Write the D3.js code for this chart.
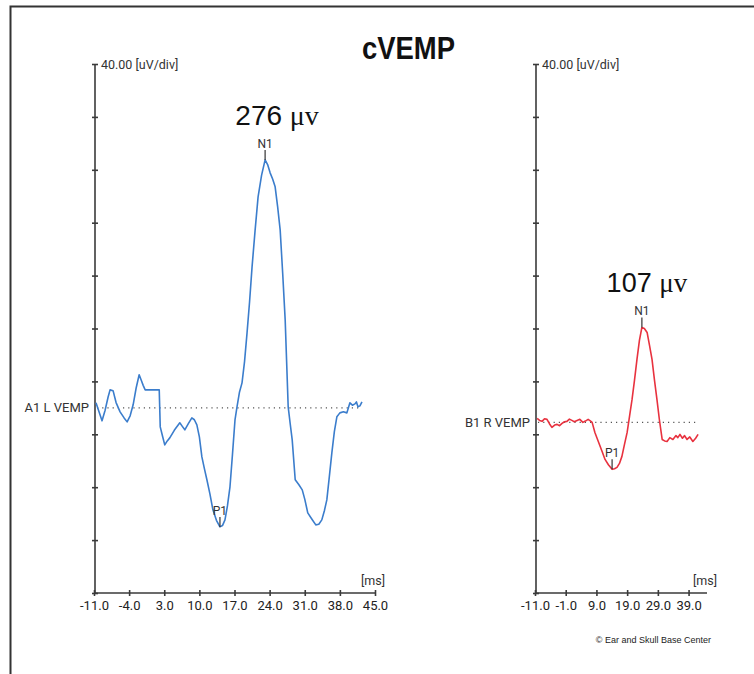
<!DOCTYPE html>
<html>
<head>
<meta charset="utf-8">
<script src="https://cdn.jsdelivr.net/npm/d3@7"></script>
<style>
  body { margin: 0; background: #fff; }
  svg { display: block; }
</style>
</head>
<body>
<div id="chart"></div>
<script>
// left trace (A1 L VEMP): time in ms, amplitude in uV
var leftTime = [-10.6,-10.0,-9.4,-8.8,-8.2,-7.8,-7.2,-6.6,-5.8,-5.0,-4.4,-3.8,-3.2,-2.6,-2.0,-1.6,-1.2,-0.8,0.0,1.0,2.0,2.2,2.7,3.1,3.6,4.1,5.0,6.1,6.6,7.1,7.8,8.5,9.0,9.5,10.0,10.5,11.0,11.5,12.1,12.7,13.4,14.1,14.6,15.1,15.6,16.1,16.6,17.1,17.5,18.0,18.5,19.0,19.5,20.0,20.5,21.1,21.7,22.4,23.1,23.6,24.1,24.6,25.1,25.6,26.1,26.6,27.1,27.7,28.1,28.5,29.1,29.8,30.5,31.0,31.6,32.4,33.2,33.8,34.4,34.9,35.4,35.9,36.4,36.9,37.4,38.0,38.7,39.4,39.7,40.0,40.5,41.0,41.3,41.6,42.0,42.4];
var leftVal = [3.8,-3.0,-9.8,-2.0,8.0,13.6,13.0,4.0,-3.0,-7.6,-10.6,-6.0,2.3,15.0,25.0,21.0,17.0,13.6,13.6,13.6,13.6,-14.4,-22.0,-28.0,-25.0,-22.7,-17.0,-11.3,-14.0,-16.6,-12.0,-7.6,-9.0,-12.9,-22.0,-37.1,-46.0,-54.4,-65.0,-77.1,-85.0,-90.0,-89.0,-84.7,-74.0,-59.7,-35.0,-9.1,0.8,12.0,18.9,35.0,56.7,80.0,106.6,134.0,159.5,176.0,187.5,184.0,177.7,173.0,167.1,152.0,134.6,102.0,66.5,0.8,-12.0,-24.2,-54.4,-58.0,-62.0,-69.0,-79.4,-84.0,-88.5,-88.0,-84.7,-78.0,-69.6,-52.0,-34.0,-18.0,-6.8,-3.8,-3.0,-3.8,0.0,3.8,2.0,3.0,4.5,0.8,1.5,4.5];

// right trace (B1 R VEMP)
var rightTime = [-10.3,-9.5,-8.7,-7.9,-7.1,-6.3,-5.5,-4.6,-3.8,-3.0,-2.2,-1.4,-0.6,0.2,1.0,1.8,2.7,3.6,4.6,5.4,6.3,7.0,7.6,8.5,9.3,10.2,11.0,11.8,12.9,14.1,14.9,15.7,16.5,17.3,18.1,19.0,19.8,20.6,21.4,22.2,23.0,23.8,24.6,25.5,26.3,27.1,27.9,28.7,29.5,30.4,31.2,32.0,32.9,33.9,34.9,35.5,36.2,37.0,37.7,38.5,39.4,40.4,41.3,42.1];
var rightVal = [3.0,1.5,0.8,2.8,2.3,-1.0,-3.8,-2.0,-1.5,-2.5,-0.8,0.5,0.8,2.5,1.5,0.5,1.5,2.3,0.0,1.0,2.3,1.2,0.0,-7.6,-12.5,-18.1,-23.0,-28.0,-32.0,-35.5,-35.0,-34.0,-31.0,-25.7,-17.0,-7.6,5.0,17.4,32.0,47.6,62.0,71.8,71.0,68.0,58.0,47.6,32.0,17.4,2.0,-12.9,-14.0,-14.4,-11.5,-12.9,-10.0,-11.5,-9.1,-12.0,-10.0,-12.9,-11.0,-14.4,-12.0,-9.1];

var xTicksLeft = [-11, -4, 3, 10, 17, 24, 31, 38, 45];
var xTicksRight = [-11, -1, 9, 19, 29, 39];
var panelNames = ["A1 L VEMP", "B1 R VEMP"];
var amplitudes = ["276", "107"];
var peakN1 = [23.1, 23.8];
var peakP1 = [14.1, 14.1];

var W = 754, H = 674;
var axisColor = '#3a3a3a';
var tickFont = 'Roboto, "Liberation Sans", Arial, sans-serif';

var svg = d3.select("#chart").append("svg")
  .attr("width", W)
  .attr("height", H);

// frame
svg.append("path")
  .attr("d", "M10.5," + H + "V6.5H" + W)
  .attr("fill", "none")
  .attr("stroke", "#333")
  .attr("stroke-width", 2);

svg.append("text")
  .attr("x", 362)
  .attr("y", 59)
  .attr("textLength", 93)
  .attr("lengthAdjust", "spacingAndGlyphs")
  .style("font-family", '"Liberation Sans", Arial, sans-serif')
  .style("font-weight", "bold")
  .style("font-size", "31px")
  .attr("fill", "#111")
  .text("cVEMP");

// hyphen minus like the instrument printout
var fmt = function(d) { return d3.format(".1f")(d).replace("\u2212", "-"); };

// 10 divisions of 40 uV; top value picked so the baseline sits where it does in the plot
var panels = [
  {x0: 94, x1: 375, top: 260, time: leftTime, val: leftVal, ticks: xTicksLeft, color: "#3b7dcc", dotEnd: 42.4, ampDx: 12, ampSize: 28},
  {x0: 535, x1: 707, top: 271, time: rightTime, val: rightVal, ticks: xTicksRight, color: "#e8323f", dotEnd: 42.4, ampDx: 5, ampSize: 27}
];

panels.forEach(function(p, k) {
  var x = d3.scaleLinear().domain([-11, 45]).range([p.x0, p.x1]);
  var y = d3.scaleLinear().domain([p.top - 400, p.top]).range([593, 64]);
  var g = svg.append("g");

  // y axis
  var yTicks = d3.range(0, 11).map(function(i) { return p.top - 40 * i; });
  var yAxis = g.append("g")
    .attr("transform", "translate(" + (p.x0 + 1) + ",0)")
    .call(d3.axisLeft(y).tickValues(yTicks).tickSize(3).tickFormat(""));
  yAxis.select(".domain").attr("d", "M0," + y(p.top) + "V" + y(p.top - 400));
  yAxis.selectAll(".tick line").attr("x2", 3).attr("x1", -3);
  yAxis.selectAll("path, line").attr("stroke", axisColor).attr("stroke-width", 1.6);

  // x axis
  var xAxis = g.append("g")
    .attr("transform", "translate(0,593)")
    .call(d3.axisBottom(x).tickValues(p.ticks).tickSize(3).tickPadding(5).tickFormat(fmt));
  xAxis.select(".domain").attr("d", "M" + p.x0 + ",0H" + p.x1);
  xAxis.selectAll(".tick line").attr("y1", -3).attr("y2", 3);
  xAxis.selectAll("path, line").attr("stroke", axisColor).attr("stroke-width", 1.6);
  xAxis.selectAll("text")
    .style("font-family", tickFont)
    .style("font-size", "13px")
    .attr("fill", "#222");

  g.append("text")
    .attr("x", p.x0 + 7)
    .attr("y", 69)
    .style("font-family", tickFont)
    .style("font-size", "12.5px")
    .attr("fill", "#333")
    .text("40.00 [uV/div]");

  g.append("text")
    .attr("x", p.x1 + 10)
    .attr("y", 585)
    .attr("text-anchor", "end")
    .style("font-family", tickFont)
    .style("font-size", "12.5px")
    .attr("fill", "#333")
    .text("[ms]");

  // baseline + label
  g.append("line")
    .attr("x1", p.x0 + 3).attr("x2", x(p.dotEnd))
    .attr("y1", y(0)).attr("y2", y(0))
    .attr("stroke", "#555")
    .attr("stroke-width", 1.2)
    .attr("stroke-dasharray", "1.2,4");

  g.append("text")
    .attr("x", p.x0 - 5)
    .attr("y", y(0) + 4.5)
    .attr("text-anchor", "end")
    .style("font-family", tickFont)
    .style("font-size", "13px")
    .attr("fill", "#333")
    .text(panelNames[k]);

  var pts = p.time.map(function(t, i) { return [t, p.val[i]]; });
  g.append("path")
    .datum(pts)
    .attr("fill", "none")
    .attr("stroke", p.color)
    .attr("stroke-width", 1.6)
    .attr("stroke-linejoin", "round")
    .attr("d", d3.line().x(function(d) { return x(d[0]); }).y(function(d) { return y(d[1]); }));

  // peak markers
  var iN = d3.minIndex(p.time, function(t) { return Math.abs(t - peakN1[k]); });
  var iP = d3.minIndex(p.time, function(t) { return Math.abs(t - peakP1[k]); });
  var nx = x(p.time[iN]), ny = y(p.val[iN]);
  var px = x(p.time[iP]), py = y(p.val[iP]);

  g.append("line").attr("x1", nx).attr("x2", nx).attr("y1", ny - 10).attr("y2", ny)
    .attr("stroke", "#333").attr("stroke-width", 1.2);
  g.append("text").attr("x", nx).attr("y", ny - 12).attr("text-anchor", "middle")
    .style("font-family", tickFont).style("font-size", "12px").attr("fill", "#333").text("N1");

  g.append("line").attr("x1", px).attr("x2", px).attr("y1", py - 10).attr("y2", py)
    .attr("stroke", "#333").attr("stroke-width", 1.2);
  g.append("text").attr("x", px).attr("y", py - 12).attr("text-anchor", "middle")
    .style("font-family", tickFont).style("font-size", "12px").attr("fill", "#333").text("P1");

  var amp = g.append("text")
    .attr("x", nx + p.ampDx)
    .attr("y", ny - 35)
    .attr("text-anchor", "middle")
    .style("font-family", '"Liberation Sans", Arial, sans-serif')
    .style("font-size", p.ampSize + "px")
    .attr("fill", "#111");
  amp.append("tspan").text(amplitudes[k] + " ");
  amp.append("tspan").style("font-family", '"Liberation Serif", "Times New Roman", serif').text("\u03bcv");
});

svg.append("text")
  .attr("x", 711)
  .attr("y", 643)
  .attr("text-anchor", "end")
  .style("font-family", '"Liberation Sans", Arial, sans-serif')
  .style("font-size", "9px")
  .attr("fill", "#222")
  .text("\u00a9 Ear and Skull Base Center");
</script>
</body>
</html>
